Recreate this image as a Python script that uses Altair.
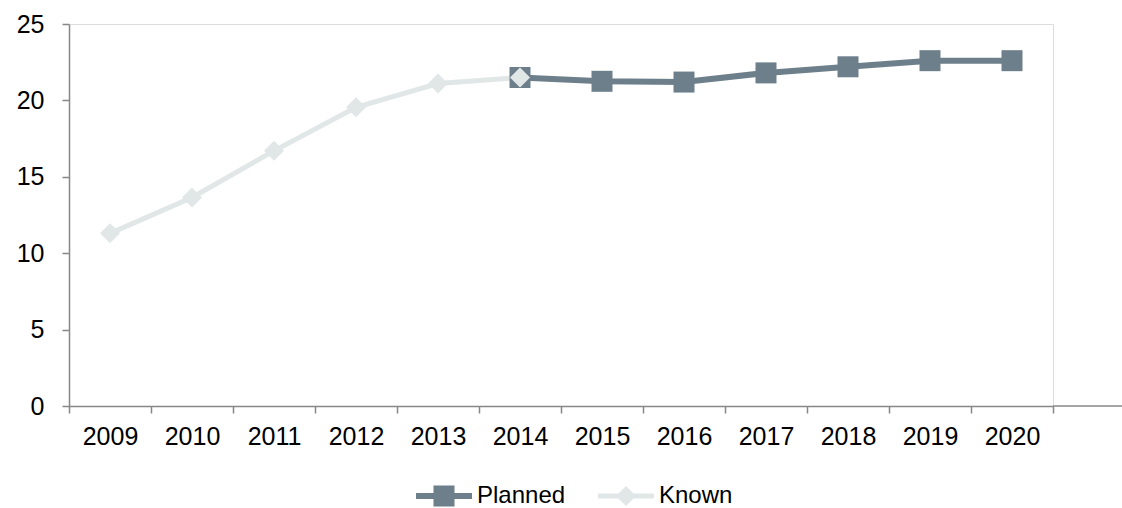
import altair as alt
import pandas as pd

years = [str(y) for y in range(2009, 2021)]

planned_years = ["2014", "2015", "2016", "2017", "2018", "2019", "2020"]
planned_values = [21.5, 21.25, 21.2, 21.8, 22.2, 22.6, 22.6]

known_years = ["2009", "2010", "2011", "2012", "2013", "2014"]
known_values = [11.3, 13.65, 16.7, 19.55, 21.1, 21.5]

series_names = ["Planned", "Known"]
series_colors = ["#6e7f8c", "#e1e7e7"]

df_planned = pd.DataFrame({"year": planned_years, "value": planned_values, "series": "Planned"})
df_known = pd.DataFrame({"year": known_years, "value": known_values, "series": "Known"})
df_all = pd.concat([df_planned, df_known], ignore_index=True)

W, H = 984, 382
LEFT, TOP = 69, 24
FONT = "Liberation Sans"
AXIS_GREY = "#878787"

# legend glyphs: a line with a marker on it (unit coordinates)
path_planned = ("M-1,-0.107L1,-0.107L1,0.107L-1,0.107Z"
                "M-0.375,-0.375L0.375,-0.375L0.375,0.375L-0.375,0.375Z")
path_known = ("M-1,-0.089L1,-0.089L1,0.089L-1,0.089Z"
              "M-0.357,0L0,-0.357L0.357,0L0,0.357Z")

x_enc = alt.X(
    "year:N",
    sort=years,
    scale=alt.Scale(type="band", domain=years, paddingInner=0, paddingOuter=0),
    axis=alt.Axis(
        title=None, labelAngle=0, tickBand="extent", grid=False,
        domainColor=AXIS_GREY, domainWidth=1.5, tickColor=AXIS_GREY, tickWidth=1.5,
        tickSize=7, labelFontSize=25, labelFont=FONT, labelColor="#000000",
        labelPadding=11,
    ),
)
y_enc = alt.Y(
    "value:Q",
    scale=alt.Scale(domain=[0, 25]),
    axis=alt.Axis(
        title=None, values=[0, 5, 10, 15, 20, 25], grid=False,
        domainColor=AXIS_GREY, domainWidth=1.5, tickColor=AXIS_GREY, tickWidth=1.5,
        tickSize=7, labelFontSize=25, labelFont=FONT, labelColor="#000000",
        labelPadding=18,
    ),
)
color_scale = alt.Scale(domain=series_names, range=series_colors)
color_nolegend = alt.Color("series:N", scale=color_scale, legend=None)

legend = alt.Legend(
    title=None, orient="none", legendX=347, legendY=444, direction="horizontal",
    symbolSize=3136, labelFontSize=24, labelFont=FONT, labelColor="#000000",
    labelOffset=5, columnPadding=32, padding=0,
    symbolOpacity=1, symbolStrokeWidth=0,
)

# invisible layer that only supplies the legend (line + marker glyphs)
legend_layer = alt.Chart(df_all).mark_point(filled=True, opacity=0).encode(
    x=x_enc, y=y_enc,
    color=alt.Color("series:N", scale=color_scale, legend=legend, sort=series_names),
    shape=alt.Shape("series:N", scale=alt.Scale(domain=series_names, range=[path_planned, path_known]),
                    legend=legend, sort=series_names),
)

line_planned = alt.Chart(df_planned).mark_line(strokeWidth=6).encode(x=x_enc, y=y_enc, color=color_nolegend)
line_known = alt.Chart(df_known).mark_line(strokeWidth=5).encode(x=x_enc, y=y_enc, color=color_nolegend)
pts_planned = alt.Chart(df_planned).mark_point(filled=True, opacity=1, shape="square", size=441).encode(
    x=x_enc, y=y_enc, color=color_nolegend)
pts_known = alt.Chart(df_known).mark_point(filled=True, opacity=1, shape="diamond", size=400).encode(
    x=x_enc, y=y_enc, color=color_nolegend)

axis_ext = alt.Chart(pd.DataFrame({"a": [0]})).mark_rule(color=AXIS_GREY, strokeWidth=1.5).encode(
    x=alt.value(W), x2=alt.value(1122 - LEFT), y=alt.value(H)
)

chart = alt.layer(legend_layer, line_planned, line_known, pts_planned, pts_known, axis_ext).properties(
    width=W, height=H,
    autosize=alt.AutoSizeParams(type="none"),
    padding={"left": LEFT, "top": TOP, "right": 1122 - LEFT - W, "bottom": 508 - TOP - H},
).configure_view(strokeWidth=0).configure(background="white")

chart.save("out.html", embed_options={"renderer": "svg", "actions": False})
